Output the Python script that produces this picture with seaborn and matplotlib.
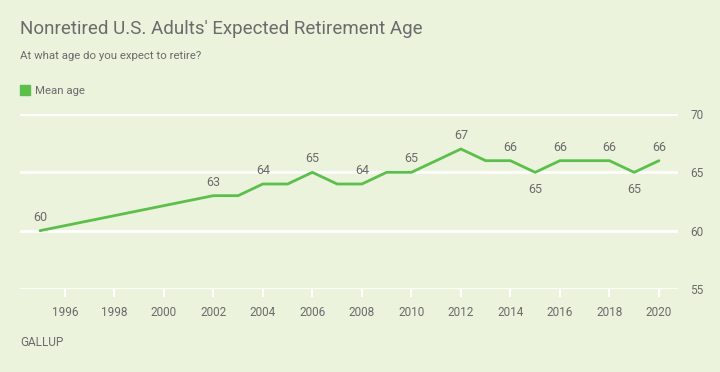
import pandas as pd
import matplotlib
matplotlib.use("Agg")
import matplotlib.pyplot as plt
import seaborn as sns

# data
years = [1995, 2002, 2003, 2004, 2005, 2006, 2007, 2008, 2009, 2010,
         2012, 2013, 2014, 2015, 2016, 2017, 2018, 2019, 2020]
mean_age = [60, 63, 63, 64, 64, 65, 64, 64, 65, 65,
            67, 66, 66, 65, 66, 66, 66, 65, 66]
labeled_years = [1995, 2002, 2004, 2006, 2008, 2010, 2012, 2014, 2015,
                 2016, 2018, 2019, 2020]
below_years = [2015, 2019]
x_ticks = list(range(1996, 2021, 2))
y_ticks = [55, 60, 65, 70]

BG = "#ebf3dd"
GREEN = "#5cbf4c"
GRAY = "#6b6b6b"


def main():
    df = pd.DataFrame({"year": years, "age": mean_age})

    sns.set_theme(style="white")
    plt.rcParams["font.family"] = ["Roboto", "DejaVu Sans"]

    fig = plt.figure(figsize=(7.2, 3.72), dpi=100, facecolor=BG)
    ax = fig.add_axes([20 / 720, 1 - 289 / 372, 658 / 720, 175 / 372])
    ax.set_facecolor(BG)

    for y in y_ticks:
        ax.axhline(y, color="white", lw=2, zorder=1)

    sns.lineplot(data=df, x="year", y="age", color=GREEN, lw=2, ax=ax,
                 zorder=3, legend=False)

    # value labels, above the line except the dips
    for yr, age in zip(years, mean_age):
        if yr not in labeled_years:
            continue
        off = -8 if yr in below_years else 5
        va = "top" if yr in below_years else "bottom"
        ax.annotate(str(age), (yr, age), xytext=(0, off),
                    textcoords="offset points", ha="center", va=va,
                    fontsize=9, color=GRAY)

    ax.set_xlim(1994.19, 2020.77)
    ax.set_ylim(55, 70)
    ax.set_xticks(x_ticks)
    ax.set_xticklabels([str(t) for t in x_ticks], fontsize=8.5, color=GRAY)
    ax.set_yticks(y_ticks)
    ax.set_yticklabels([str(t) for t in y_ticks], fontsize=8.5, color=GRAY)
    ax.yaxis.tick_right()
    ax.tick_params(axis="y", length=0, pad=9)
    ax.tick_params(axis="x", length=6, width=1.5, color="white",
                   direction="out", pad=6, bottom=True)
    ax.set_xlabel("")
    ax.set_ylabel("")
    for s in ax.spines.values():
        s.set_visible(False)

    fig.text(20 / 720, 1 - 29 / 372, "Nonretired U.S. Adults' Expected Retirement Age",
             fontsize=13.5, color=GRAY, va="center")
    fig.text(20 / 720, 1 - 56 / 372, "At what age do you expect to retire?",
             fontsize=8.2, color=GRAY, va="center")
    fig.patches.append(plt.Rectangle((20 / 720, 1 - 95 / 372), 10 / 720, 10 / 372,
                                     transform=fig.transFigure, color=GREEN))
    fig.text(35 / 720, 1 - 90.5 / 372, "Mean age", fontsize=8.2, color=GRAY,
             va="center")
    fig.text(20 / 720, 1 - 342 / 372, "GALLUP", fontsize=8.5, color=GRAY,
             va="center")

    fig.savefig("out.png", dpi=100, facecolor=BG)


if __name__ == "__main__":
    main()
